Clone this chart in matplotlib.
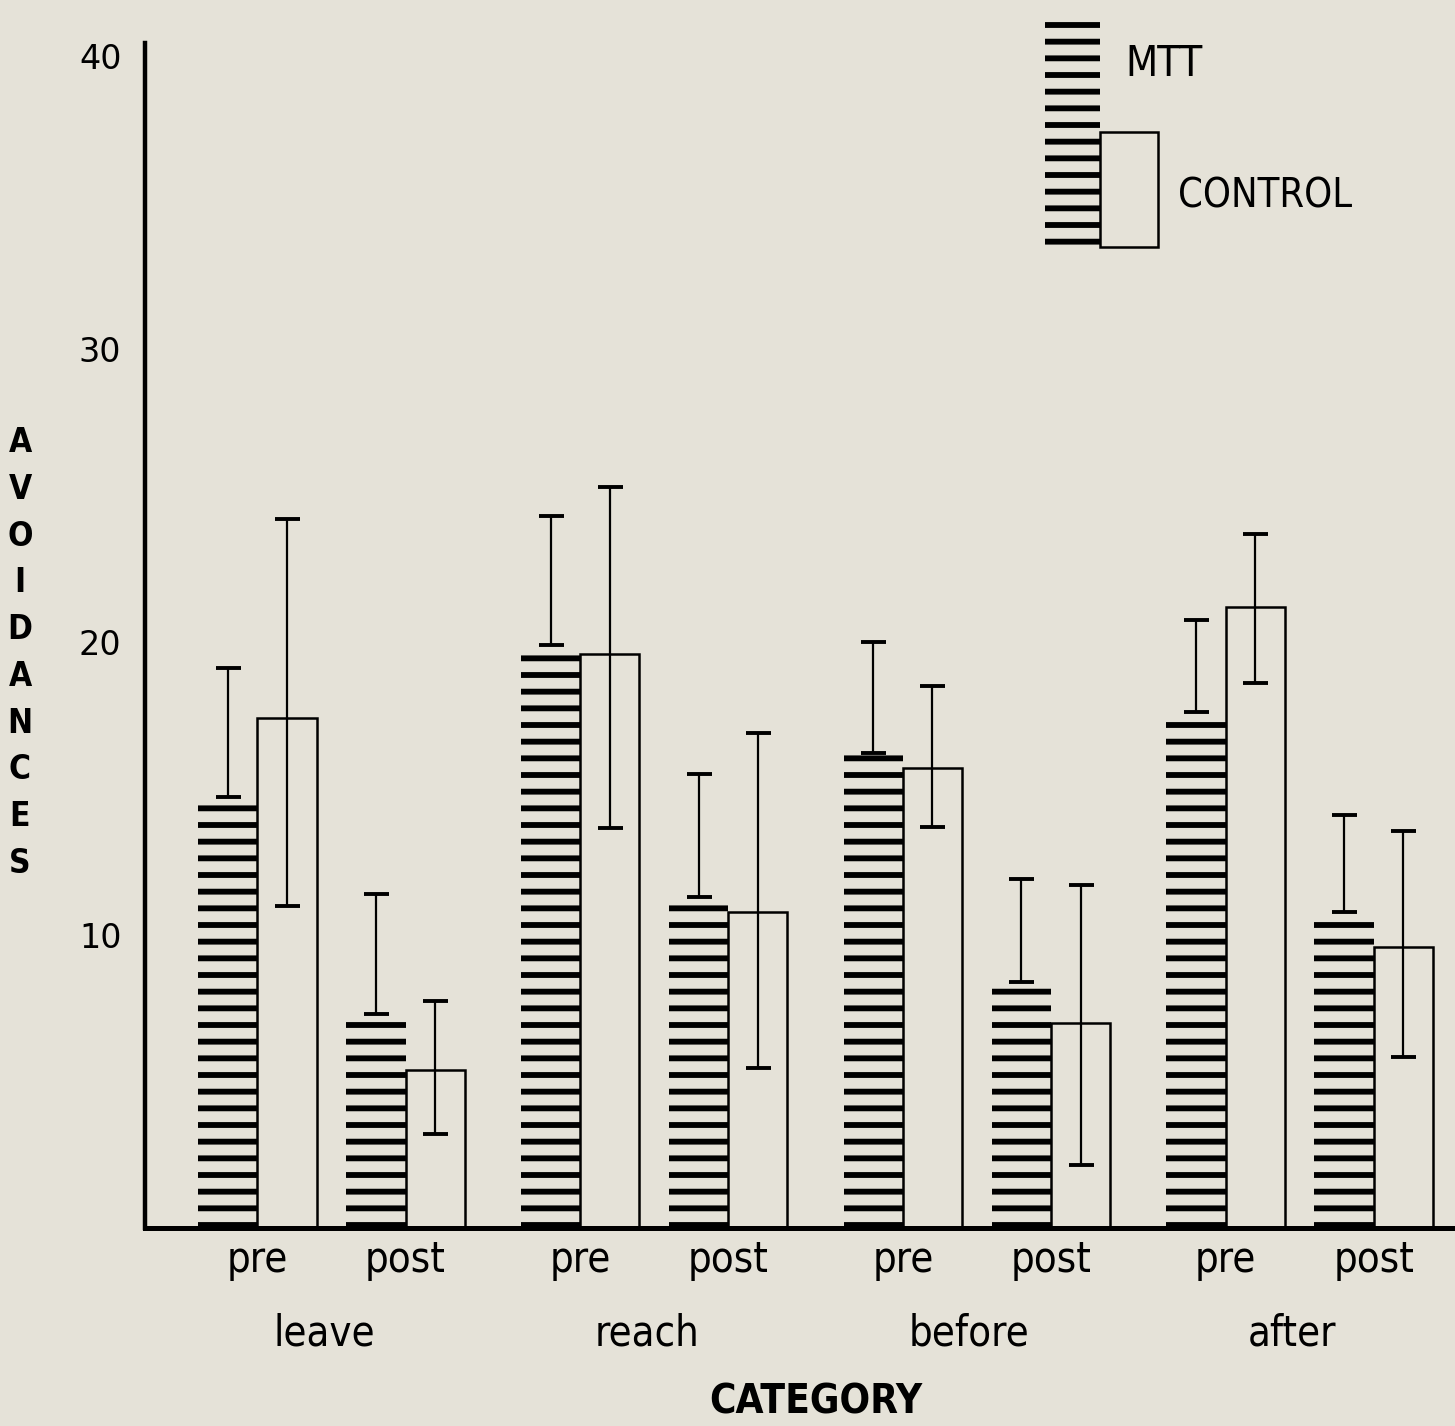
import matplotlib
matplotlib.use("Agg")
import matplotlib.pyplot as plt
from matplotlib.patches import Rectangle
import numpy as np

# values (avoidances)
categories = ["leave", "reach", "before", "after"]
stages = ["pre", "post"]

mtt_mean = [14.7, 7.3, 19.9, 11.3, 16.2, 8.4, 17.6, 10.8]
mtt_high = [19.1, 11.4, 24.3, 15.5, 20.0, 11.9, 20.75, 14.1]

ctrl_mean = [17.4, 5.4, 19.6, 10.8, 15.7, 7.0, 21.2, 9.6]
ctrl_high = [24.2, 7.75, 25.3, 16.9, 18.5, 11.7, 23.7, 13.55]
ctrl_low = [11.0, 3.2, 13.65, 5.45, 13.7, 2.15, 18.6, 5.85]

BG = "#e5e2d8"
W, H = 1455, 1426
FONT = dict(family="DejaVu Sans", fontstretch="condensed")

plt.rcParams["hatch.linewidth"] = 4.2
plt.rcParams["hatch.color"] = "black"

fig = plt.figure(figsize=(W / 100, H / 100), dpi=100, facecolor=BG)
ax = fig.add_axes([145 / W, 1 - 1228 / H, 1 - 145 / W, (1228 - 43) / H])
ax.set_facecolor(BG)

# layout: pre/post spacing 1, group spacing ~2.18
group_step = 2.18
x = np.array([g * group_step + s for g in range(len(categories)) for s in range(len(stages))])
bw = 0.4

mtt_mean = np.array(mtt_mean)
ctrl_mean = np.array(ctrl_mean)

ax.bar(x - bw / 2, mtt_mean, width=bw, color=BG, edgecolor="black", linewidth=0,
       hatch="-", zorder=2)
ax.bar(x + bw / 2, ctrl_mean, width=bw, color=BG, edgecolor="black", linewidth=1.8, zorder=2)

ax.errorbar(x - bw / 2, mtt_mean, yerr=[np.zeros_like(mtt_mean), np.array(mtt_high) - mtt_mean],
            fmt="none", ecolor="black", elinewidth=1.6, capsize=9, capthick=2.8, zorder=3)
ax.errorbar(x + bw / 2, ctrl_mean,
            yerr=[ctrl_mean - np.array(ctrl_low), np.array(ctrl_high) - ctrl_mean],
            fmt="none", ecolor="black", elinewidth=1.6, capsize=9, capthick=2.8, zorder=3)

ax.set_xlim(-0.76, 8.09)
ax.set_ylim(0, (1228 - 43) / 29.3)

for side in ["top", "right"]:
    ax.spines[side].set_visible(False)
ax.spines["left"].set_linewidth(3.2)
ax.spines["bottom"].set_linewidth(3.6)

ax.set_yticks([10, 20, 30, 40])
ax.set_yticklabels(["10", "20", "30", "40"], fontsize=24, family="DejaVu Sans")
ax.tick_params(axis="y", length=0, pad=17)

ax.set_xticks(x)
ax.set_xticklabels(stages * len(categories), fontsize=30, **FONT)
ax.tick_params(axis="x", length=0, pad=8)

for g, name in enumerate(categories):
    ax.text(g * group_step + 0.45, -0.089, name, transform=ax.get_xaxis_transform(),
            ha="center", va="center", fontsize=30, **FONT)

ax.text(0.5 * ((len(categories) - 1) * group_step + 1), -0.147, "CATEGORY",
        transform=ax.get_xaxis_transform(), ha="center", va="center",
        fontsize=29, fontweight="bold", **FONT)

fig.text(20 / W, 1 - 653 / H, "\n".join("AVOIDANCES"), ha="center", va="center",
         fontsize=24, fontweight="bold", linespacing=1.53, **FONT)

# legend drawn by hand, as in the original
fig.add_artist(Rectangle((1045 / W, 1 - 247 / H), 55 / W, 229 / H, transform=fig.transFigure,
                         facecolor=BG, edgecolor="black", linewidth=0, hatch="-"))
fig.add_artist(Rectangle((1100 / W, 1 - 247 / H), 58 / W, 115 / H, transform=fig.transFigure,
                         facecolor=BG, edgecolor="black", linewidth=1.8))
fig.text(1125 / W, 1 - 64 / H, "MTT", ha="left", va="center", fontsize=30, **FONT)
fig.text(1178 / W, 1 - 196 / H, "CONTROL", ha="left", va="center", fontsize=28.5, **FONT)

fig.savefig("out.png", dpi=100, facecolor=BG)
